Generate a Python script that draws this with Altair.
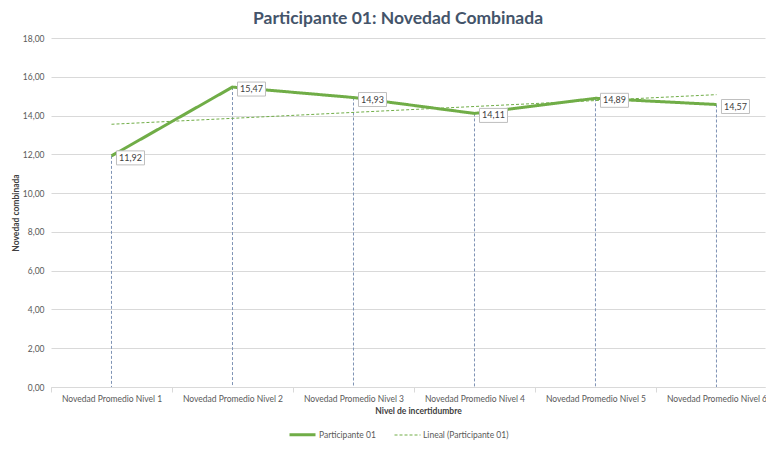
import altair as alt
import pandas as pd

# ---- data ----
categorias = [
    "Novedad Promedio Nivel 1",
    "Novedad Promedio Nivel 2",
    "Novedad Promedio Nivel 3",
    "Novedad Promedio Nivel 4",
    "Novedad Promedio Nivel 5",
    "Novedad Promedio Nivel 6",
]
niveles = [1, 2, 3, 4, 5, 6]
valores = [11.92, 15.47, 14.93, 14.11, 14.89, 14.57]
serie_principal = "Participante 01"
serie_tendencia = "Lineal (Participante 01)"
y_ticks = [0, 2, 4, 6, 8, 10, 12, 14, 16, 18]

df = pd.DataFrame({
    "nivel": niveles,
    "categoria": categorias,
    "valor": valores,
    "serie": [serie_principal] * len(niveles),
})

FONT = "Lato"
GREEN = "#70AD47"
GRID = "#D9D9D9"
LABEL_COLOR = "#595959"

label_arr = "[" + ",".join("'" + c + "'" for c in [""] + categorias) + "]"
x_label_expr = "datum.value % 1 == 0 ? " + label_arr + "[datum.value] : ''"
x_values = sorted(niveles + [n - 0.5 for n in niveles])

x_enc = alt.X(
    "nivel:Q",
    scale=alt.Scale(domain=[0.5, 6.401], nice=False, zero=False),
    axis=alt.Axis(
        values=x_values,
        labelExpr=x_label_expr,
        labelOverlap=False,
        labelFlush=False,
        grid=False,
        domainColor=GRID,
        tickColor=GRID,
        tickSize=5,
        tickOpacity={"condition": {"test": "datum.value % 1 == 0", "value": 0}, "value": 1},
        labelPadding=2,
        labelFont=FONT,
        labelFontSize=8.5,
        labelColor=LABEL_COLOR,
        title="Nivel de incertidumbre",
        titleFont=FONT,
        titleFontSize=8.5,
        titleFontWeight="bold",
        titleColor="#404040",
        titleX=367,
        titlePadding=4,
    ),
)

y_enc = alt.Y(
    "valor:Q",
    scale=alt.Scale(domain=[0, 18], nice=False),
    axis=alt.Axis(
        values=y_ticks,
        labelExpr="replace(format(datum.value, '.2f'), '.', ',')",
        grid=True,
        gridColor=GRID,
        domain=False,
        ticks=False,
        labelPadding=7,
        labelFont=FONT,
        labelFontSize=8.5,
        labelColor=LABEL_COLOR,
        title="Novedad combinada",
        titleFont=FONT,
        titleFontSize=8.5,
        titleFontWeight="bold",
        titleColor="#404040",
        titleX=-36,
        titleY=174.5,
        titleAngle=270,
        titleAlign="center",
        titleBaseline="middle",
    ),
)

dominio = [serie_principal, serie_tendencia]
leg = alt.Legend(
    title=None,
    orient="none",
    direction="horizontal",
    legendX=237,
    legendY=382,
    symbolType="stroke",
    symbolSize=676,
    labelFont=FONT,
    labelFontSize=8.5,
    labelColor=LABEL_COLOR,
    columnPadding=16,
    labelOffset=2,
)
color_enc = alt.Color("serie:N", scale=alt.Scale(domain=dominio, range=[GREEN, GREEN]), legend=leg)
dash_enc = alt.StrokeDash("serie:N", scale=alt.Scale(domain=dominio, range=[[1, 0], [3, 2]]), legend=leg)
width_enc = alt.StrokeWidth("serie:N", scale=alt.Scale(domain=dominio, range=[3, 1]), legend=leg)

base = alt.Chart(df)

drop = base.mark_rule(color="#7F93B5", strokeWidth=1, strokeDash=[3, 2]).encode(
    x=x_enc, y=y_enc, y2=alt.datum(0)
)

trend = base.transform_regression(
    "nivel", "valor", extent=[1, 6]
).transform_calculate(
    serie="'" + serie_tendencia + "'"
).mark_line().encode(
    x=x_enc, y=y_enc, color=color_enc, strokeDash=dash_enc, strokeWidth=width_enc
)

line = base.mark_line().encode(
    x=x_enc, y=y_enc, color=color_enc, strokeDash=dash_enc, strokeWidth=width_enc
)

box = base.mark_point(
    shape="M-1,-0.5H1V0.5H-1Z",
    size=784,
    filled=True,
    fill="white",
    stroke="#BFBFBF",
    strokeWidth=1,
    opacity=1,
    xOffset=19,
    yOffset=2,
).encode(x=x_enc, y=y_enc)

labels = base.transform_calculate(
    etiqueta="replace(format(datum.valor, '.2f'), '.', ',')"
).mark_text(
    font=FONT, fontSize=9, color="#404040", xOffset=19, yOffset=2, align="center", baseline="middle"
).encode(x=x_enc, y=y_enc, text="etiqueta:N")

chart = alt.layer(drop, trend, line, box, labels).properties(
    width=714,
    height=349,
    title=alt.Title(
        "Participante 01: Novedad Combinada",
        font=FONT,
        fontSize=17.5,
        fontWeight="bold",
        color="#44546A",
        anchor="middle",
        dx=-10,
        offset=7,
    ),
    autosize=alt.AutoSizeParams(type="none"),
    padding={"left": 43, "top": 30, "right": 1, "bottom": 55},
).configure_view(stroke=None)

chart.save("out.html", embed_options={"renderer": "svg", "actions": False})
